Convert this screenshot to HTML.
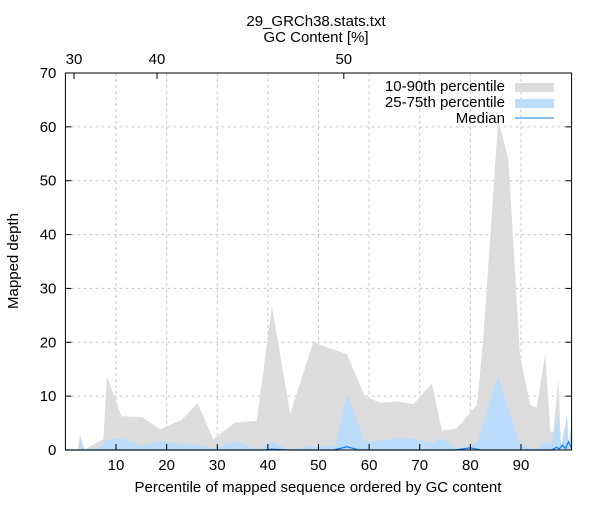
<!DOCTYPE html>
<html><head><meta charset="utf-8"><style>
body{margin:0;background:#fff}
svg text{font-family:"Liberation Sans",sans-serif;fill:#000}
</style></head><body>
<svg id="c" width="600" height="500" xmlns="http://www.w3.org/2000/svg">
<text x="316" y="26" text-anchor="middle" font-size="15">29_GRCh38.stats.txt</text>
<text x="316" y="42" text-anchor="middle" font-size="15">GC Content [%]</text>
<text x="318" y="492" text-anchor="middle" font-size="15">Percentile of mapped sequence ordered by GC content</text>
<text transform="translate(18,261) rotate(-90)" text-anchor="middle" font-size="15">Mapped depth</text>
<g id="grid"></g><g id="marks"></g><g id="axes"></g>
<g font-size="15">
<text x="505" y="91" text-anchor="end">10-90th percentile</text>
<rect x="515" y="83" width="39" height="9" fill="#dcdcdc"/>
<text x="505" y="107" text-anchor="end">25-75th percentile</text>
<rect x="515" y="99" width="39" height="9" fill="#bbdcfb"/>
<text x="505" y="123" text-anchor="end">Median</text>
<line x1="515" y1="118" x2="554" y2="118" stroke="#0a7ff0" stroke-width="1"/>
</g>
</svg>
<script>
const pct90X=[2.5,2.9,3.4,3.9,4.5,6.5,7.5,8.2,11.1,15.1,18.7,23,26.1,29.2,33.5,37.8,40.8,44.4,49,50.3,55.6,59.2,62.2,65.5,68.8,72.4,74.4,77.3,81.3,82.5,85.5,87.5,89.8,91.8,93.1,94.8,95.8,96.4,97.4,97.9,99.1,99.4,100];
const pct90Y=[0,2.7,1,0,0.5,1.5,2,13.6,6.3,6.1,3.9,5.6,8.7,2,5.1,5.4,26.7,6.7,20.1,19.5,17.8,9.9,8.8,9,8.5,12.4,3.6,4,8.4,20,61.3,54,17.6,8.4,7.9,17.8,3.4,3.4,13.2,0.5,6.5,0.5,5.3];
const pct75X=[2.5,2.9,3.5,4,6.5,8.2,11.1,15.1,18.7,23,26.1,29.2,33.5,37.8,40.8,44.4,49,50.3,53.3,55.6,59.2,62,66,69,72.4,74.4,77.3,81.3,85.5,89.8,93.1,94.8,96,97.4,98,99.1,99.4,100];
const pct75Y=[0,2.7,0.5,0,0.3,1.9,2.2,0.8,1.7,1.05,1.05,0.2,1.7,0.1,1.5,0.1,0.8,0.8,0.8,10.5,1.5,1.8,2.2,2.1,1.3,2.2,0.3,1.3,13.7,1.1,0,1.5,0.9,6.8,0.5,6.5,0.5,5];
const medX=[0,39,40.8,44,53,55.6,58,77,80,82,96,97,97.6,98.2,98.8,99.4,100];
const medY=[0,0,0.15,0,0,0.6,0,0,0.4,0,0,0.5,0.2,0.9,0.3,1.5,0.3];
const yTicks=[0,10,20,30,40,50,60,70];
const xTicks=[10,20,30,40,50,60,70,80,90];
const gcLabels=[30,40,50];
const gcPct=[1.7,18.1,55.0];
const X0=65.4,X1=571.6,Y0=450,Y1=73;
const sx=v=>X0+(v/100)*(X1-X0);
const sy=v=>Y0-(v/70)*(Y0-Y1);
const NS="http://www.w3.org/2000/svg";
function mk(tag,attrs,parent){const e=document.createElementNS(NS,tag);for(const k in attrs)e.setAttribute(k,attrs[k]);parent.appendChild(e);return e;}
const grid=document.getElementById('grid'),marks=document.getElementById('marks'),axes=document.getElementById('axes');
yTicks.slice(1,-1).forEach(t=>{const l=mk('line',{x1:X0,x2:X1,y1:sy(t),y2:sy(t),stroke:'#c8c8c8','stroke-dasharray':'3,3'},grid);

});
xTicks.forEach(t=>{const l=mk('line',{x1:sx(t),x2:sx(t),y1:Y1,y2:Y0,stroke:'#c8c8c8','stroke-dasharray':'3,3'},grid);

});
function area(xs,ys,fill,name){let d='M'+sx(xs[0])+','+Y0;xs.forEach((x,i)=>d+='L'+sx(x)+','+sy(ys[i]));d+='L'+sx(xs[xs.length-1])+','+Y0+'Z';
const p=mk('path',{d:d,fill:fill},marks);

}
area(pct90X,pct90Y,'#dcdcdc','area-10-90-percentile');
area(pct75X,pct75Y,'#bbdcfb','area-25-75-percentile');
{let d='';medX.forEach((x,i)=>d+=(i?'L':'M')+sx(x)+','+sy(medY[i]));
const p=mk('path',{d:d,fill:'none',stroke:'#0a7ff0','stroke-width':1.2},marks);

}
const fr=mk('rect',{x:X0,y:Y1,width:X1-X0,height:Y0-Y1,fill:'none',stroke:'#000'},axes);


yTicks.forEach(t=>{mk('line',{x1:X0,x2:X0+6,y1:sy(t),y2:sy(t),stroke:'#000'},axes);mk('line',{x1:X1-6,x2:X1,y1:sy(t),y2:sy(t),stroke:'#000'},axes);
const tx=mk('text',{x:X0-9,y:sy(t)+5,'text-anchor':'end','font-size':15},axes);tx.textContent=t;

});
xTicks.forEach(t=>{mk('line',{x1:sx(t),x2:sx(t),y1:Y0,y2:Y0-6,stroke:'#000'},axes);
const tx=mk('text',{x:sx(t),y:Y0+20,'text-anchor':'middle','font-size':15},axes);tx.textContent=t;

});
gcLabels.forEach((g,i)=>{mk('line',{x1:sx(gcPct[i]),x2:sx(gcPct[i]),y1:Y1,y2:Y1+6,stroke:'#000'},axes);
const tx=mk('text',{x:sx(gcPct[i]),y:Y1-9,'text-anchor':'middle','font-size':15},axes);tx.textContent=g;

});
</script>
</body></html>
